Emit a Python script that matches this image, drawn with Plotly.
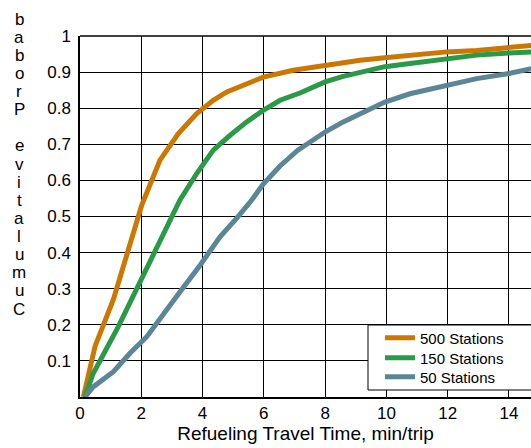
import plotly.graph_objects as go

x500 = [0.11, 0.43, 0.49, 1.09, 2.01, 2.61, 3.21, 3.81, 4.35, 4.79, 5.44, 5.98, 6.96, 8.0, 9.14, 9.95, 11.31, 11.97, 12.95, 14.0, 14.75]
y500 = [0.0, 0.125, 0.14, 0.27, 0.53, 0.656, 0.73, 0.785, 0.822, 0.845, 0.868, 0.886, 0.905, 0.92, 0.933, 0.94, 0.951, 0.956, 0.96, 0.967, 0.974]

x150 = [0.16, 0.43, 1.25, 1.69, 2.01, 2.67, 3.26, 3.81, 4.35, 4.9, 5.44, 5.98, 6.53, 7.18, 8.0, 8.59, 9.95, 10.77, 11.97, 12.95, 14.0, 14.75]
y150 = [0.0, 0.065, 0.195, 0.27, 0.33, 0.444, 0.545, 0.619, 0.684, 0.725, 0.762, 0.794, 0.822, 0.842, 0.873, 0.888, 0.915, 0.924, 0.938, 0.947, 0.953, 0.956]

x50 = [0.16, 0.43, 1.09, 1.63, 2.18, 2.72, 3.26, 3.92, 4.57, 5.11, 5.6, 5.98, 6.53, 7.1, 8.0, 8.59, 9.25, 9.95, 10.77, 11.97, 12.95, 14.0, 14.75]
y50 = [0.0, 0.028, 0.07, 0.121, 0.167, 0.232, 0.291, 0.365, 0.444, 0.495, 0.545, 0.59, 0.64, 0.683, 0.734, 0.762, 0.79, 0.817, 0.84, 0.863, 0.882, 0.896, 0.91]

series_names = ["500 Stations", "150 Stations", "50 Stations"]
series_colors = ["#CC7700", "#2A9A48", "#5A8696"]

x_tickvals = [0, 2, 4, 6, 8, 10, 12, 14]
y_tickvals = [0, 0.1, 0.2, 0.3, 0.4, 0.5, 0.6, 0.7, 0.8, 0.9, 1]
y_ticktext = ["", "0.1", "0.2", "0.3", "0.4", "0.5", "0.6", "0.7", "0.8", "0.9", "1"]

x_title = "Refueling Travel Time, min/trip"
y_title = "Cumulative Probab"

FONT = "Liberation Sans, Arial, Helvetica, sans-serif"

W, H = 531, 448
ml, mr, mt, mb = 80, 0, 36, 51
PW, PH = W - ml - mr, H - mt - mb


def px_x(p):
    return (p - ml) / PW


def px_y(p):
    return (H - mb - p) / PH


fig = go.Figure()
legend_ids = ["legend", "legend2", "legend3"]
legend_rows = [338, 358, 377]
for xs, ys, name, col, lid in zip([x500, x150, x50], [y500, y150, y50],
                                  series_names, series_colors, legend_ids):
    fig.add_trace(go.Scatter(x=xs, y=ys, mode="lines", name=name, legend=lid,
                             line=dict(color=col, width=5)))

legend_common = dict(xanchor="left", yanchor="middle", bgcolor="rgba(0,0,0,0)",
                     borderwidth=0, font=dict(family=FONT, size=15, color="black"))

layout_legends = {}
for lid, row in zip(legend_ids, legend_rows):
    layout_legends[lid] = dict(x=px_x(380), y=px_y(row), **legend_common)

fig.update_layout(
    width=W, height=H,
    margin=dict(l=ml, r=mr, t=mt, b=mb, pad=0),
    paper_bgcolor="white", plot_bgcolor="white",
    font=dict(family=FONT, size=17, color="black"),
    showlegend=True,
    xaxis=dict(range=[0, 14.72], tickvals=x_tickvals, ticks="inside", ticklen=4,
               tickcolor="black", showgrid=True, gridcolor="black", gridwidth=1,
               showline=True, linecolor="black", linewidth=1.5, mirror=False,
               zeroline=False, tickfont=dict(size=17), automargin=False,
               title=dict(text=x_title, font=dict(size=19), standoff=4)),
    yaxis=dict(range=[0, 1], tickvals=y_tickvals, ticktext=y_ticktext, ticks="inside",
               ticklen=4, tickcolor="black", showgrid=True, gridcolor="black", gridwidth=1,
               showline=True, linecolor="black", linewidth=1.5, mirror=False,
               zeroline=False, tickfont=dict(size=17), ticklabelstandoff=4,
               automargin=False),
    **layout_legends,
)

# top border
fig.add_shape(type="line", xref="paper", yref="paper", x0=0, x1=1, y0=1, y1=1,
              line=dict(color="black", width=1.5))
# legend frame (extends past the right edge of the picture)
fig.add_shape(type="rect", xref="paper", yref="paper",
              x0=px_x(368), x1=1.1, y0=px_y(390), y1=px_y(325),
              line=dict(color="black", width=1), fillcolor="white", layer="above")

# y title: upright letters stacked, read bottom to top
letters = list(y_title[::-1])
top_c, bot_c = 19, 309
step = (bot_c - top_c) / (len(letters) - 1)
for i, ch in enumerate(letters):
    if ch == " ":
        continue
    fig.add_annotation(text=ch, xref="paper", yref="paper",
                       x=px_x(19), y=px_y(top_c + i * step),
                       xanchor="center", yanchor="middle", showarrow=False,
                       font=dict(family=FONT, size=17, color="black"))

fig.write_html("out.html", config={"displayModeBar": False},
               post_script="document.body.style.margin='0';document.body.style.padding='0';"
                           "document.body.style.overflow='hidden';")
